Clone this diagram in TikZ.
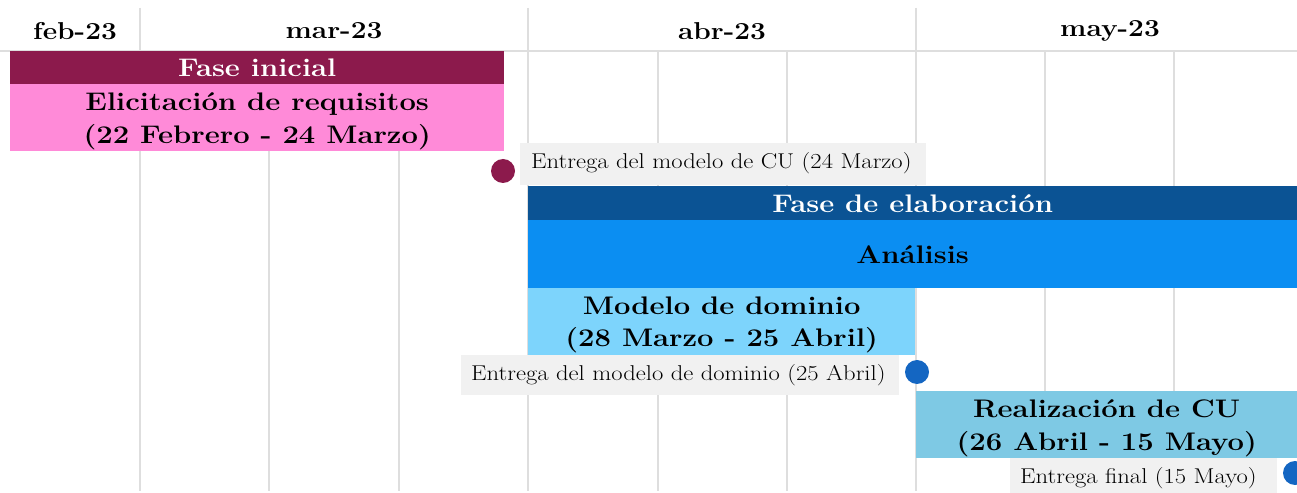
\documentclass[tikz,border=0pt]{standalone}
\usepackage{fontspec}
\setmainfont{Latin Modern Roman}[FakeStretch=1.15]
\definecolor{gridc}{HTML}{DEDEDE}
\definecolor{maroon}{HTML}{8C1A4C}
\definecolor{pinkc}{HTML}{FF8AD8}
\definecolor{darkblue}{HTML}{0B5394}
\definecolor{brightblue}{HTML}{0B8EF2}
\definecolor{lightblue}{HTML}{7DD4FC}
\definecolor{skyc}{HTML}{7EC9E4}
\definecolor{labelgray}{HTML}{F1F1F1}
\definecolor{dotblue}{HTML}{1466C2}
\tikzset{
  gridline/.style={draw=gridc, line width=1.3bp},
  bar/.style={draw=none, inner sep=0pt, anchor=north west, align=center,
    font=\fontsize{25.5}{33}\selectfont\bfseries},
  bartwo/.style={bar, text depth=0pt},
  header/.style={font=\fontsize{24.5}{28}\selectfont\bfseries, inner sep=0pt},
  deliv/.style={fill=labelgray, inner sep=0pt, anchor=north west},
  delivtext/.style={anchor=west, inner sep=0pt, font=\fontsize{21.5}{25}\selectfont},
  dot/.style={circle, inner sep=0pt, minimum size=24bp}
}
\begin{document}
\begin{tikzpicture}[x=1bp,y=-1bp]
\useasboundingbox (0,0) rectangle (1297,493);
% grid
\draw[gridline] (0,51) -- (1297,51);
\foreach \x in {140,528,916} \draw[gridline] (\x,8) -- (\x,491);
\foreach \x in {269,399,658,787,1045,1174} \draw[gridline] (\x,51) -- (\x,491);
% headers
\node[header] (hfeb) at (75,31) {feb-23};
\node[header] (hmar) at (334,31) {mar-23};
\node[header] (habr) at (722,31) {abr-23};
\node[header] (hmay) at (1110,31) {may-23};
% initial phase
\node[bar, fill=maroon, text=white, minimum width=494bp, minimum height=33bp] (fi) at (10,51) {Fase inicial};
\node[bartwo, fill=pinkc, minimum width=494bp, minimum height=67bp] (eli) at (10,84) {Elicitación de requisitos\\(22 Febrero - 24 Marzo)};
\node[dot, fill=maroon] (m1) at (503,171) {};
\node[deliv, minimum width=406bp, minimum height=42bp] (l1) at (520,143) {};
\node[delivtext] (l1t) at (531,163) {Entrega del modelo de CU (24 Marzo)};
% elaboration
\node[bar, fill=darkblue, text=white, minimum width=769bp, minimum height=34bp] (fe) at (528,186) {Fase de elaboración};
\node[bar, fill=brightblue, minimum width=769bp, minimum height=68bp] (an) at (528,220) {Análisis};
\node[bartwo, fill=lightblue, minimum width=387bp, minimum height=67bp] (md) at (528,288) {Modelo de dominio\\(28 Marzo - 25 Abril)};
\node[deliv, minimum width=438bp, minimum height=40bp] (l2) at (461,355) {};
\node[delivtext] (l2t) at (471,375) {Entrega del modelo de dominio (25 Abril)};
\node[dot, fill=dotblue] (m2) at (917,372) {};
\node[bartwo, fill=skyc, minimum width=381bp, minimum height=67bp] (rc) at (916,391) {Realización de CU\\(26 Abril - 15 Mayo)};
\node[deliv, minimum width=267bp, minimum height=36bp] (l3) at (1010,458) {};
\node[delivtext] (l3t) at (1020,478) {Entrega final (15 Mayo)};
\node[dot, fill=dotblue] (m3) at (1295,473) {};
\end{tikzpicture}
\end{document}
